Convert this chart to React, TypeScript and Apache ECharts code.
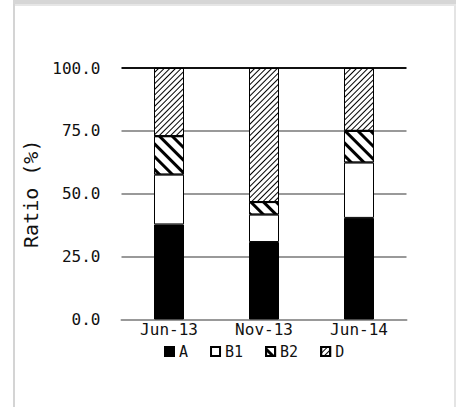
import React, { useEffect, useRef } from "react";
import * as echarts from "echarts";

const categories = ["Jun-13", "Nov-13", "Jun-14"];
const seriesNames = ["A", "B1", "B2", "D"];
const valuesA = [37.8, 30.8, 40.4];
const valuesB1 = [19.8, 10.9, 22.0];
const valuesB2 = [15.3, 5.0, 12.6];
const valuesD = [27.1, 53.3, 25.0];
const yTicks = [0, 25, 50, 75, 100];

const FONT = "DejaVu Sans Mono";

export default function App() {
  const ref = useRef<HTMLDivElement>(null);
  useEffect(() => {
    if (!ref.current) return;
    const chart = echarts.init(ref.current, null, { renderer: "svg" });
    const baseItem = { borderColor: "#000", borderWidth: 1 };
    const option: any = {
      animation: false,
      backgroundColor: "#fff",
      graphic: [
        { type: "rect", shape: { x: 13, y: 0, width: 443, height: 4 }, style: { fill: "#d6d6d6" }, silent: true },
        { type: "rect", shape: { x: 13, y: 4, width: 443, height: 2 }, style: { fill: "#e6e6e6" }, silent: true },
        { type: "rect", shape: { x: 13, y: 4, width: 2, height: 403 }, style: { fill: "#d4d4d4" }, silent: true },
        { type: "rect", shape: { x: 454, y: 6, width: 2, height: 401 }, style: { fill: "#e4e4e4" }, silent: true },
      ],
      grid: { left: 121.5, right: 49.5, top: 68, bottom: 87.5, containLabel: false },
      legend: {
        data: seriesNames,
        top: 344,
        left: 164,
        itemWidth: 9,
        itemHeight: 9,
        itemGap: 22,
        icon: "rect",
        padding: 0,
        textStyle: { fontFamily: FONT, fontSize: 15, color: "#111" },
      },
      xAxis: {
        type: "category",
        data: categories,
        axisLine: { show: true, lineStyle: { color: "#999", width: 2 } },
        axisTick: { show: false },
        axisLabel: { fontFamily: FONT, fontSize: 16, color: "#111", margin: 2 },
      },
      yAxis: {
        type: "value",
        min: yTicks[0],
        max: yTicks[yTicks.length - 1],
        interval: 25,
        name: "Ratio (%)",
        nameLocation: "middle",
        nameGap: 63,
        nameTextStyle: { fontFamily: FONT, fontSize: 20, color: "#111" },
        axisLine: { show: false },
        axisTick: { show: false },
        axisLabel: {
          fontFamily: FONT,
          fontSize: 16,
          color: "#111",
          margin: 21,
          formatter: (v: number) => v.toFixed(1),
        },
        splitLine: { lineStyle: { color: ["#999", "#999", "#999", "#999", "#111"], width: 2 } },
      },
      series: [
        { name: "A", type: "bar", stack: "t", barWidth: 30, data: valuesA, itemStyle: { ...baseItem, color: "#000" } },
        { name: "B1", type: "bar", stack: "t", data: valuesB1, itemStyle: { ...baseItem, color: "#fff" } },
        {
          name: "B2", type: "bar", stack: "t", data: valuesB2,
          itemStyle: {
            ...baseItem, color: "#fff",
            decal: { symbol: "rect", symbolSize: 1, color: "#000", backgroundColor: "#fff", dashArrayX: [1, 0], dashArrayY: [3, 6], rotation: Math.PI / 4 },
          },
        },
        {
          name: "D", type: "bar", stack: "t", data: valuesD,
          itemStyle: {
            ...baseItem, color: "#fff",
            decal: { symbol: "rect", symbolSize: 1, color: "#000", backgroundColor: "#fff", dashArrayX: [1, 0], dashArrayY: [1, 2.5], rotation: -Math.PI / 4 },
          },
        },
      ],
    };
    chart.setOption(option);
    return () => chart.dispose();
  }, []);
  return <div ref={ref} style={{ position: "fixed", left: 0, top: 0, width: 456, height: 407 }} />;
}
